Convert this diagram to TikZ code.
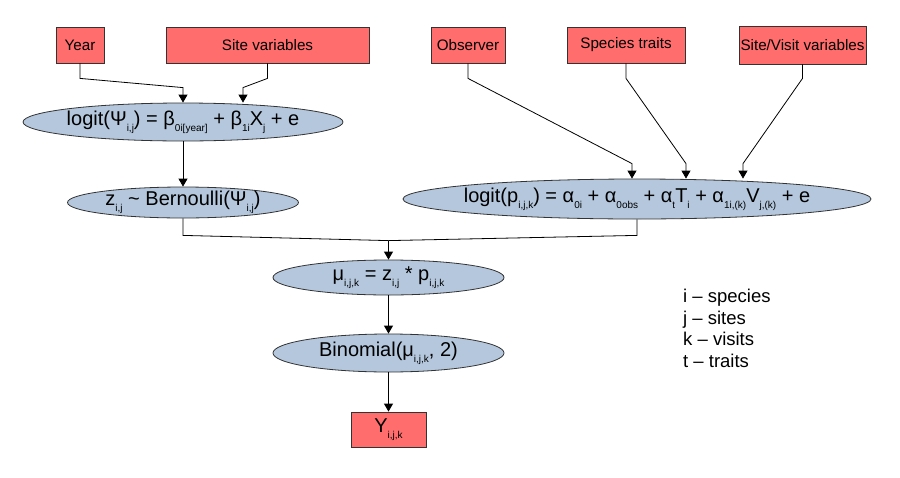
\documentclass[tikz,border=0pt]{standalone}
\usepackage{fontspec}
\setmainfont{Liberation Sans}
\usetikzlibrary{shapes.geometric,arrows.meta}

\definecolor{boxred}{HTML}{FF6D6D}
\definecolor{ellblue}{HTML}{B4C7DC}
\newcommand{\lo}[1]{\raisebox{-0.55ex}{\fontsize{10}{10}\selectfont #1}}

\tikzset{
	varbox/.style={draw=black!80,fill=boxred,line width=0.8pt,inner sep=0pt,minimum height=36pt,font=\fontsize{15.2}{17}\selectfont},
	% negative inner sep: the ellipse keeps the size given by minimum width/height
	modell/.style={ellipse,draw=black!80,fill=ellblue,line width=0.8pt,inner xsep=-60pt,inner ysep=-8pt,font=\fontsize{20}{22}\selectfont},
	arr/.style={-{Triangle[width=9pt,length=8pt]},line width=0.8pt},
	link/.style={line width=0.8pt}
}

\begin{document}
\begin{tikzpicture}[x=1pt,y=-1pt]
			\useasboundingbox (0,0) rectangle (900,477);
			% inputs
			\node[varbox,minimum width=48pt] (year) at (80,45) {Year};
			\node[varbox,minimum width=203pt] (site) at (267.5,45) {Site variables};
			\node[varbox,minimum width=74pt] (obs) at (468,45) {Observer};
			\node[varbox,minimum width=118pt] (traits) at (626,45) {Species traits};
			\node[varbox,minimum width=127pt,minimum height=38pt] (sitevisit) at (802.5,45) {Site/Visit variables};
			% model parts
			\node[modell,minimum width=320pt,minimum height=38pt] (psi) at (183,122) {logit(Ψ\lo{i,j}) = β\lo{0i[year]} + β\lo{1i}X\lo{j} + e};
			\node[modell,minimum width=231pt,minimum height=31pt] (z) at (183,202.5) {z\lo{i,j} \char`\~{} Bernoulli(Ψ\lo{i,j})};
			\node[modell,minimum width=468pt,minimum height=40pt] (p) at (637,199) {logit(p\lo{i,j,k}) = α\lo{0i} + α\lo{0obs} + α\lo{t}T\lo{i} + α\lo{1i,(k)}V\lo{j,(k)} + e};
			\node[modell,minimum width=231pt,minimum height=35pt] (mu) at (388.5,277.5) {μ\lo{i,j,k} = z\lo{i,j} * p\lo{i,j,k}};
			\node[modell,minimum width=231pt,minimum height=38pt] (binom) at (388.5,353) {Binomial(μ\lo{i,j,k}, 2)};
			\node[varbox,minimum width=75pt,minimum height=35pt,font=\fontsize{20}{22}\selectfont] (y) at (388.5,429.5) {Y\lo{i,j,k}};
			% legend
			\node[anchor=north west,inner sep=0pt,align=left,font=\fontsize{18.5}{21.5}\selectfont] (legend) at (683,289) {i – species\\ j – sites\\ k – visits\\ t – traits};
			% connectors
			\draw[arr] (year.south) -- ++(0,15) -- ([yshift=15]psi.north) -- (psi.north);
			\draw[arr] (site.south) -- ++(0,15) -- ([xshift=60,yshift=15]psi.north) -- ([xshift=60]psi.north);
			\draw[arr] (obs.south) -- ++(0,15) -- ([xshift=-5,yshift=15]p.north) -- ([xshift=-5]p.north);
			\draw[arr] (traits.south) -- ++(0,15) -- ([xshift=49,yshift=15]p.north) -- ([xshift=49]p.north);
			\draw[arr] (sitevisit.south) -- ++(0,14) -- ([xshift=106,yshift=15]p.north) -- ([xshift=106]p.north);
			\draw[arr] (psi.south) -- (z.north);
			\draw[link] (z.south) -- ++(0,17) -- ([yshift=19]mu.north);
			\draw[link] (p.south) -- ++(0,16) -- ([yshift=19]mu.north);
			\draw[arr] ([yshift=19]mu.north) -- (mu.north);
			\draw[arr] (mu.south) -- (binom.north);
			\draw[arr] (binom.south) -- (y.north);
		\end{tikzpicture}
\end{document}
